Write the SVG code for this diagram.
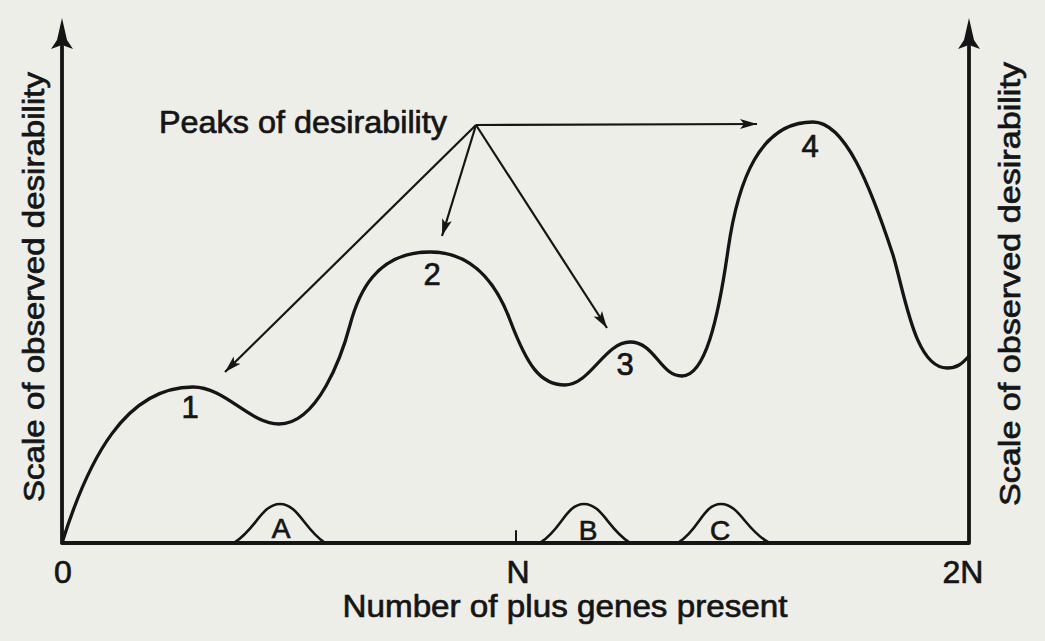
<svg xmlns="http://www.w3.org/2000/svg" width="1045" height="641" viewBox="0 0 1045 641">
<defs>
<style>
.ink{stroke:#151515;fill:none;stroke-linecap:round;stroke-linejoin:round}
.lbl{font-family:"Liberation Sans",Arial,sans-serif;fill:#151515;stroke:#151515;stroke-width:0.7}
.ptr{stroke:#151515;stroke-width:2.2;fill:none}
</style>
<marker id="ah" markerUnits="userSpaceOnUse" markerWidth="18" markerHeight="12" viewBox="0 0 18 12" refX="17" refY="6" orient="auto">
<path d="M0,1 L17,6 L0,11 L4,6 Z" fill="#151515"/>
</marker>
</defs>
<rect width="1045" height="641" fill="#eeeee8"/>
<g id="axes">
<path class="ink" stroke-width="3.8" d="M62,46 L62,543 L969,543 L969,46"/>
<path d="M62,18 L57,40 L51,49 L62,45 L73,49 L67,40 Z" fill="#151515"/>
<path d="M969,18 L964,40 L958,49 L969,45 L980,49 L974,40 Z" fill="#151515"/>
<path class="ink" stroke-width="2" d="M516,531 L516,543"/>
</g>
<g id="curve">
<path class="ink" stroke-width="3.3" d="M62,543 C88,460 125,387 193,387 C225,387 250,424 279,424 C318,424 342,355 350,325 C358,295 375,252 430,252 C470,252 495,280 510,320 C527,365 540,385 565,385 C590,385 605,342 630,342 C655,342 660,376 682,376 C705,376 718,320 728,250 C738,180 760,122 813,122 C845,122 870,185 893,255 C905,295 915,368 947,368 C957,368 962,364 969,356"/>
</g>
<g id="bells">
<path id="bellA" class="ink" stroke-width="2.6" d="M235,542 C255,530 262,504 280,504 C298,504 305,530 324,542"/>
<path id="bellB" class="ink" stroke-width="2.6" d="M541,542 C561,530 566,504 584,504 C602,504 609,530 629,542"/>
<path id="bellC" class="ink" stroke-width="2.6" d="M679,542 C699,530 703,504 721,504 C739,504 746,530 768,542"/>
</g>
<g id="connectors">
<line class="ptr" x1="476" y1="125" x2="225" y2="372" marker-end="url(#ah)"/>
<line class="ptr" x1="476" y1="125" x2="442" y2="236" marker-end="url(#ah)"/>
<line class="ptr" x1="476" y1="125" x2="607" y2="328" marker-end="url(#ah)"/>
<line class="ptr" x1="476" y1="125" x2="757" y2="124" marker-end="url(#ah)"/>
</g>
<g id="peak-labels" class="lbl" font-size="31" text-anchor="middle">
<text x="190" y="418">1</text>
<text x="432" y="285">2</text>
<text x="625" y="375">3</text>
<text x="810" y="157">4</text>
</g>
<g id="pop-labels" class="lbl" font-size="28" text-anchor="middle">
<text x="281" y="538">A</text>
<text x="588" y="540">B</text>
<text x="720" y="540">C</text>
</g>
<g id="title" class="lbl">
<text x="159" y="133" font-size="32" textLength="288" lengthAdjust="spacingAndGlyphs">Peaks of desirability</text>
</g>
<g id="x-labels" class="lbl" font-size="32" text-anchor="middle">
<text x="63" y="583">0</text>
<text x="518" y="583">N</text>
<text x="963" y="583">2N</text>
<text x="565" y="617" textLength="445" lengthAdjust="spacingAndGlyphs">Number of plus genes present</text>
</g>
<g id="y-labels" class="lbl" font-size="29" text-anchor="middle">
<text transform="translate(44,287) rotate(-90)" textLength="430" lengthAdjust="spacingAndGlyphs">Scale of observed desirability</text>
<text transform="translate(1020,284) rotate(-90)" textLength="444" lengthAdjust="spacingAndGlyphs">Scale of observed desirability</text>
</g>
</svg>
